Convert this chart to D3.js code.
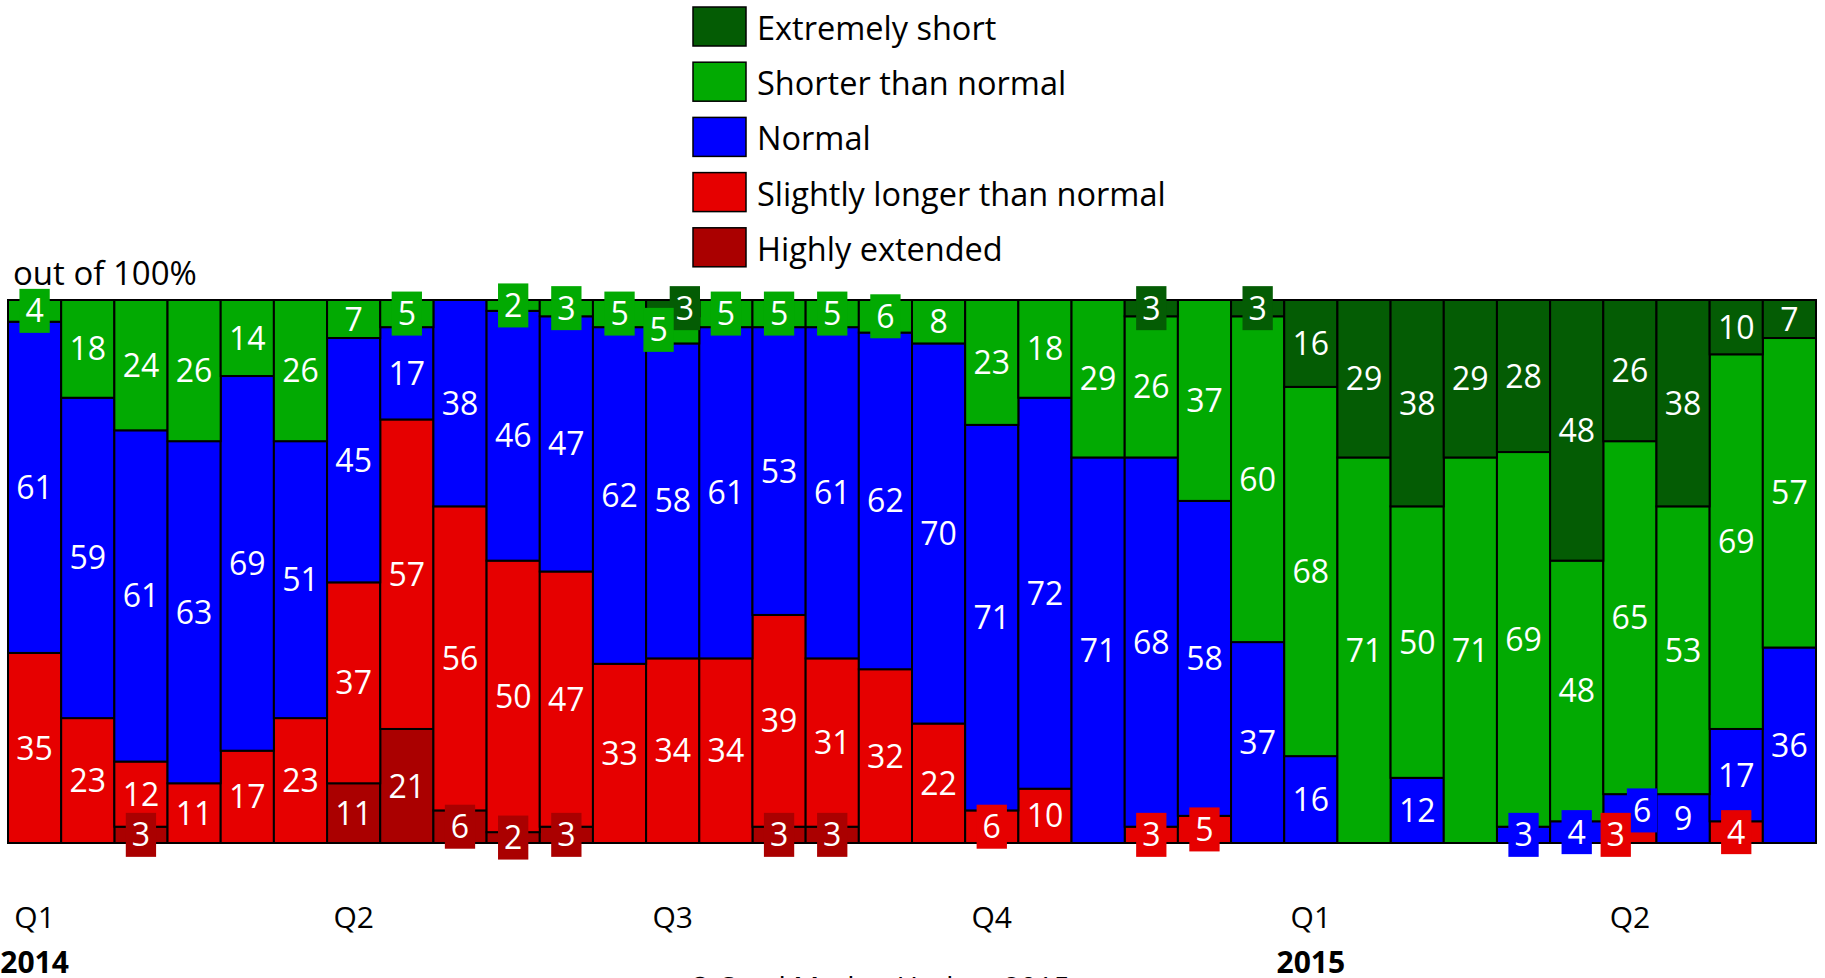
<!DOCTYPE html>
<html>
<head>
<meta charset="utf-8">
<script src="https://cdn.jsdelivr.net/npm/d3@7"></script>
<style>
  html, body { margin: 0; padding: 0; background: #fff; overflow: hidden; }
  svg { display: block; font-family: "Open Sans", sans-serif; }
</style>
</head>
<body>
<svg id="chart" width="1825" height="978"></svg>
<script>
// ---- Data (percent of respondents, 34 surveys, out of 100%) ----
const surveyIndex = d3.range(34);
const quarterLabels = ["Q1", "Q2", "Q3", "Q4", "Q1", "Q2"];
const yearLabels = ["2014", "2015"];
const seriesNames = ["Extremely short", "Shorter than normal", "Normal", "Slightly longer than normal", "Highly extended"];
const seriesColors = ["#045c04", "#02aa02", "#0000ff", "#e60000", "#aa0000"];

const extremelyShort = [0,0,0,0,0,0, 0,0,0,0,0,0, 3,0,0,0,0,0, 0,0,0,3,0,3, 16,29,38,29,28,48, 26,38,10,7];
const shorterThanNormal = [4,18,24,26,14,26, 7,5,0,2,3,5, 5,5,5,5,6,8, 23,18,29,26,37,60, 68,71,50,71,69,48, 65,53,69,57];
const normal = [61,59,61,63,69,51, 45,17,38,46,47,62, 58,61,53,61,62,70, 71,72,71,68,58,37, 16,0,12,0,3,4, 6,9,17,36];
const slightlyLonger = [35,23,12,11,17,23, 37,57,56,50,47,33, 34,34,39,31,32,22, 6,10,0,3,5,0, 0,0,0,0,0,0, 3,0,4,0];
const highlyExtended = [0,0,3,0,0,0, 11,21,6,2,3,0, 0,0,3,3,0,0, 0,0,0,0,0,0, 0,0,0,0,0,0, 0,0,0,0];

const seriesValues = [extremelyShort, shorterThanNormal, normal, slightlyLonger, highlyExtended];

// ---- Layout ----
const svg = d3.select("#chart");
const plot = { left: 8, right: 1816, top: 300, bottom: 843 };

const x = d3.scaleBand().domain(surveyIndex).range([plot.left, plot.right]).padding(0);
const y = d3.scaleLinear().domain([0, 100]).range([plot.bottom, plot.top]);

// stack from bottom: Highly extended, Slightly longer, Normal, Shorter, Extremely short
const keys = [4, 3, 2, 1, 0];
const table = surveyIndex.map(i => {
  const row = { i };
  seriesValues.forEach((vals, s) => row[s] = vals[i]);
  return row;
});
const stacked = d3.stack().keys(keys)(table);

// bars
const gBars = svg.append("g");
stacked.forEach(layer => {
  const s = layer.key;
  gBars.selectAll(null)
    .data(layer.filter(d => d[1] - d[0] > 0))
    .enter().append("rect")
    .attr("x", d => x(d.data.i))
    .attr("width", x.bandwidth())
    .attr("y", d => y(d[1]))
    .attr("height", d => y(d[0]) - y(d[1]))
    .attr("fill", seriesColors[+s])
    .attr("stroke", "#000")
    .attr("stroke-width", 2);
});
// frame
svg.append("rect")
  .attr("x", plot.left).attr("y", plot.top)
  .attr("width", plot.right - plot.left).attr("height", plot.bottom - plot.top)
  .attr("fill", "none").attr("stroke", "#000").attr("stroke-width", 2);

// labels
const labelFont = 32;
const boxH = 44;
const labels = [];
[0, 1, 2, 3, 4].forEach(s => {
  const layer = stacked.find(l => +l.key === s);
  layer.forEach(d => {
    const v = d[1] - d[0];
    if (v <= 0) return;
    const segH = y(d[0]) - y(d[1]);
    labels.push({
      s, i: d.data.i, v,
      cx: x(d.data.i) + x.bandwidth() / 2,
      cy: (y(d[0]) + y(d[1])) / 2,
      segH,
      boxed: segH < 35,
      dx: 0
    });
  });
});

const gLabels = svg.append("g");
// measure text widths
const measurer = gLabels.append("text").attr("font-size", labelFont);
labels.forEach(l => {
  measurer.text(String(l.v));
  l.w = measurer.node().getComputedTextLength() + 12;
});
measurer.remove();

// resolve overlapping label boxes inside the same bar by shifting them sideways
surveyIndex.forEach(i => {
  const inBar = labels.filter(l => l.i === i && l.boxed);
  for (let a = 0; a < inBar.length; a++) {
    for (let b = a + 1; b < inBar.length; b++) {
      const A = inBar[a], B = inBar[b];
      if (Math.abs(A.cy - B.cy) < boxH) {
        const shift = Math.min(A.w, B.w) / 2 - 2;
        A.dx = Math.max(A.dx, shift - 1);
        B.dx = Math.min(B.dx, -shift - 1);
      }
    }
  }
});

labels.forEach(l => {
  const g = gLabels.append("g").attr("transform", `translate(${l.cx + l.dx},${l.cy})`);
  if (l.boxed) {
    g.append("rect")
      .attr("x", -l.w / 2).attr("y", -boxH / 2)
      .attr("width", l.w).attr("height", boxH)
      .attr("fill", seriesColors[l.s]);
  }
  g.append("text")
    .attr("text-anchor", "middle")
    .attr("dy", "0.36em")
    .attr("font-size", labelFont)
    .attr("fill", "#fff")
    .text(l.v);
});

// "out of 100%"
svg.append("text")
  .attr("x", 13).attr("y", 285)
  .attr("font-size", 33)
  .attr("fill", "#000")
  .text("out of 100%");

// x axis: quarter labels every 6 surveys
const quarterTicks = surveyIndex.filter(i => i % 6 === 0);
const xAxis = d3.axisBottom(x)
  .tickValues(quarterTicks)
  .tickSize(0)
  .tickPadding(0)
  .tickFormat((d, k) => quarterLabels[k]);
const gx = svg.append("g").attr("transform", `translate(0,${plot.bottom})`).call(xAxis);
gx.select(".domain").remove();
gx.selectAll("text")
  .attr("y", 0).attr("dy", 0)
  .attr("transform", "translate(0,85)")
  .attr("font-size", 30)
  .attr("font-family", "Open Sans, sans-serif")
  .attr("fill", "#000");

// year labels under Q1 of each year
svg.selectAll(".year")
  .data(yearLabels)
  .enter().append("text")
  .attr("class", "year")
  .attr("x", (d, k) => x(k * 24) + x.bandwidth() / 2)
  .attr("y", 973)
  .attr("text-anchor", "middle")
  .attr("font-size", 30)
  .attr("font-weight", "bold")
  .attr("fill", "#000")
  .text(d => d);

// legend
const legend = svg.append("g").attr("transform", "translate(693,7)");
seriesNames.forEach((name, k) => {
  const row = legend.append("g").attr("transform", `translate(0,${k * 55.2})`);
  row.append("rect")
    .attr("width", 53).attr("height", 39)
    .attr("fill", seriesColors[k])
    .attr("stroke", "#000").attr("stroke-width", 1.5);
  row.append("text")
    .attr("x", 64).attr("y", 33)
    .attr("font-size", 32.5)
    .attr("fill", "#000")
    .text(name);
});

// footer (mostly cut off at bottom edge)
svg.append("text")
  .attr("x", 688).attr("y", 998)
  .attr("font-size", 29)
  .attr("fill", "#000")
  .text("\u00a9 Steel Market Update 2015");
</script>
</body>
</html>
